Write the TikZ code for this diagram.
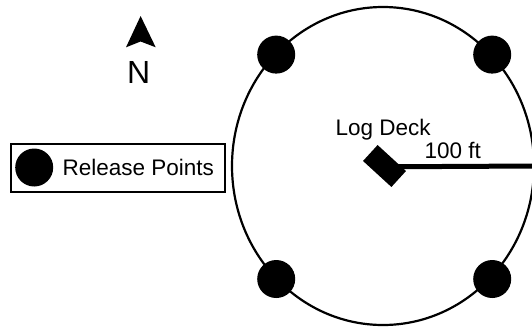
\documentclass[tikz,border=0pt]{standalone}
\usepackage{fontspec}
\setmainfont{Liberation Sans}
\usetikzlibrary{shapes.geometric}
\begin{document}
\begin{tikzpicture}[x=1pt,y=-1pt,
  lbl/.style={inner sep=0pt,anchor=base west,font=\fontsize{22.5}{26}\selectfont},
  rpoint/.style={circle,fill=black,draw=none,minimum size=38pt,inner sep=0pt},
  site/.style={ellipse,draw=black,line width=2.2pt,minimum width=302pt,minimum height=318pt,inner sep=0pt}]
\useasboundingbox (0,0) rectangle (532,327);

% harvest area boundary
\node[site] (area) at (383,166) {};

% skid line from the deck to the boundary
\draw[line width=5pt] (384.5,166.8) -- (area.east);

% log deck
\node[rectangle,fill=black,minimum width=38.5pt,minimum height=21.6pt,
      inner sep=0pt,rotate=-42.5] (deck) at (384.5,166) {};
\node[lbl] (decklbl) at (335.5,135) {Log Deck};
\node[lbl] (dist) at (424.5,158.3) {100 ft};

% release points on the boundary
\node[rpoint] (rp1) at (276.2,54.6) {};
\node[rpoint] (rp2) at (492.2,54.6) {};
\node[rpoint] (rp3) at (276.2,279) {};
\node[rpoint] (rp4) at (492.2,279) {};

% legend
\draw[line width=2pt] (11,144.3) rectangle (225,191.7);
\node[rpoint] (legdot) at (34.2,167.5) {};
\node[lbl] (legtext) at (62.5,175.3) {Release Points};

% north arrow
\fill (140.6,16) -- (155.7,47.3) -- (140.6,41.5) -- (126,47.3) -- cycle;
\node[inner sep=0pt,anchor=base west,font=\fontsize{32}{36}\selectfont] (north) at (127,83.3) {N};
\end{tikzpicture}
\end{document}
